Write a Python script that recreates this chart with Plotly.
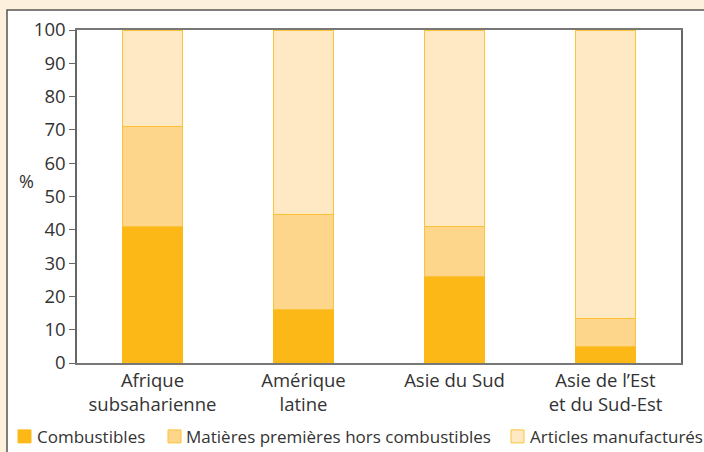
import plotly.graph_objects as go

categories = ["Afrique<br>subsaharienne", "Amérique<br>latine", "Asie du Sud", "Asie de l’Est<br>et du Sud-Est"]
combustibles = [41, 16, 26, 5]
matieres = [30, 28.5, 15, 8.5]
articles = [29, 55.5, 59, 86.5]
series_names = ["Combustibles", "Matières premières hors combustibles", "Articles manufacturés"]
y_ticks = [0, 10, 20, 30, 40, 50, 60, 70, 80, 90, 100]

fills = ["#FBB817", "#FDD68C", "#FEE9C4"]
lines = ["#FBB817", "#FBC33A", "#FBC33A"]
FONT = "Open Sans, Lato, sans-serif"
TXT = "#333333"

fig = go.Figure()
for name, vals, fc, lc in zip(series_names, [combustibles, matieres, articles], fills, lines):
    fig.add_trace(go.Bar(x=categories, y=vals, name=name, showlegend=False,
                         marker=dict(color=fc, line=dict(color=lc, width=1))))

L, R, T, B = 77, 23, 30, 88.5
W, H = 704, 452
pw, ph = W - L - R, H - T - B

def px(x):
    return (x - L) / pw

def py(y):
    return (H - B - y) / ph

# white panel
fig.add_shape(type="rect", xref="paper", yref="paper",
              x0=px(7), x1=px(720), y0=py(470), y1=py(10),
              fillcolor="white", line=dict(color="#555555", width=1.5), layer="below")

fig.add_annotation(text="%", xref="paper", yref="paper", x=px(36), y=py(181),
                   xanchor="right", yanchor="middle",
                   showarrow=False, font=dict(size=18, color=TXT, family=FONT))

# legend drawn manually (swatch + label)
legend_swatch_x = [18, 168, 511]
legend_text_x = [35, 184, 528]
for name, fc, lc, sx, tx in zip(series_names, fills, lines, legend_swatch_x, legend_text_x):
    fig.add_shape(type="rect", xref="paper", yref="paper",
                  x0=px(sx), x1=px(sx + 13), y0=py(443.5), y1=py(430.5),
                  fillcolor=fc, line=dict(color=lc, width=1))
    fig.add_annotation(text=name, xref="paper", yref="paper", x=px(tx), y=py(437),
                       xanchor="left", yanchor="middle", showarrow=False,
                       font=dict(size=17, color=TXT, family=FONT))

fig.update_layout(
    width=W, height=H,
    barmode="stack", bargap=0.6,
    paper_bgcolor="#FDF0DC", plot_bgcolor="white",
    margin=dict(l=L, r=R, t=T, b=B, autoexpand=False),
    font=dict(family=FONT, size=18, color=TXT),
    showlegend=False,
    xaxis=dict(showline=True, linecolor="#777777", linewidth=1.5, mirror=True,
               ticks="", tickfont=dict(size=18.5), fixedrange=True),
    yaxis=dict(range=[0, 100], tickvals=y_ticks, showgrid=False, zeroline=False,
               showline=True, linecolor="#666666", linewidth=1.5, mirror=True,
               ticks="outside", ticklen=6, tickcolor="#666666", tickfont=dict(size=18.5),
               fixedrange=True),
)

fig.write_html("out.html", config={"displayModeBar": False},
               post_script="document.body.style.margin='0';")
